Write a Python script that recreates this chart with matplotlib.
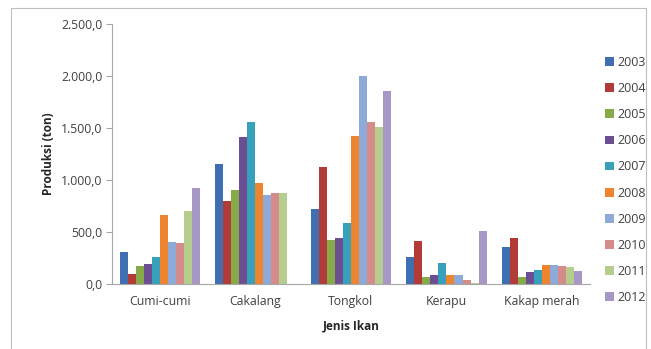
import numpy as np
import matplotlib.pyplot as plt
from matplotlib.ticker import FuncFormatter

jenis_ikan = ["Cumi-cumi", "Cakalang", "Tongkol", "Kerapu", "Kakap merah"]
tahun = ["2003", "2004", "2005", "2006", "2007", "2008", "2009", "2010", "2011", "2012"]

# produksi (ton) per tahun, urut sesuai jenis_ikan
p2003 = [305, 1150, 720, 260, 355]
p2004 = [95, 800, 1130, 410, 445]
p2005 = [170, 900, 420, 70, 70]
p2006 = [190, 1410, 440, 90, 120]
p2007 = [260, 1560, 590, 200, 140]
p2008 = [660, 975, 1420, 90, 180]
p2009 = [400, 860, 2000, 90, 180]
p2010 = [395, 880, 1560, 40, 175]
p2011 = [705, 875, 1515, 10, 165]
p2012 = [920, 0, 1860, 510, 125]
produksi = [p2003, p2004, p2005, p2006, p2007, p2008, p2009, p2010, p2011, p2012]

warna = ["#3F6FB0", "#B23A37", "#86AA48", "#6C4F92", "#37A0BB",
         "#EE8430", "#8DAAD8", "#D58B89", "#B5CE8E", "#A697C6"]

plt.rcParams["font.family"] = ["Open Sans", "DejaVu Sans"]

fig = plt.figure(figsize=(6.51, 3.49), dpi=100)
ax = fig.add_axes([0.172, 0.186, 0.734, 0.745])

x = np.arange(len(jenis_ikan))
lebar_grup = 0.84
w = lebar_grup / len(tahun)
for i, (thn, vals) in enumerate(zip(tahun, produksi)):
    ax.bar(x - lebar_grup / 2 + w * (i + 0.5), vals, width=w, color=warna[i], label=thn)

ax.set_xlim(-0.5, len(jenis_ikan) - 0.5)
ax.set_ylim(0, 2500)
ax.set_yticks(np.arange(0, 2501, 500))
ax.yaxis.set_major_formatter(FuncFormatter(
    lambda v, _: f"{v:,.1f}".replace(",", "X").replace(".", ",").replace("X", ".")))
ax.set_xticks(x)
ax.set_xticklabels(jenis_ikan)

for s in ["top", "right"]:
    ax.spines[s].set_visible(False)
for s in ["left", "bottom"]:
    ax.spines[s].set_color("#A6A6A6")
    ax.spines[s].set_linewidth(0.8)
ax.tick_params(axis="y", length=4, color="#A6A6A6", labelsize=8.8, labelcolor="#404040", pad=3)
ax.tick_params(axis="x", length=0, labelsize=8.8, labelcolor="#404040", pad=8)

ax.set_ylabel("Produksi (ton)", fontsize=8.5, fontweight="bold", color="#262626", labelpad=4)
ax.set_xlabel("Jenis Ikan", fontsize=8.5, fontweight="bold", color="#262626", labelpad=8)

leg = ax.legend(loc="upper left", bbox_to_anchor=(1.0, 0.935), frameon=False,
                fontsize=9, handlelength=0.7, handleheight=0.7, handletextpad=0.3,
                labelspacing=1.05, borderaxespad=0.8)
for t in leg.get_texts():
    t.set_color("#404040")

# bingkai tipis di sekitar area grafik
fig.add_artist(plt.Rectangle((0.017, -0.02), 0.975, 0.997, transform=fig.transFigure,
                             fill=False, edgecolor="#BFBFBF", linewidth=0.8))

fig.savefig("out.png", dpi=100)
